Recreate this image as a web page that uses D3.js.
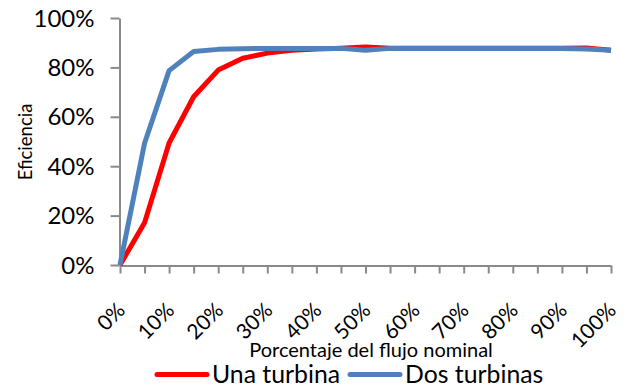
<!DOCTYPE html>
<html>
<head>
<meta charset="utf-8">
<script src="https://cdn.jsdelivr.net/npm/d3@7"></script>
<style>
  html, body { margin: 0; padding: 0; background: #fff; }
  svg text { font-family: Lato, "Open Sans", sans-serif; fill: #000; }
</style>
</head>
<body>
<svg id="chart" width="628" height="389"></svg>
<script>
// Flow as a share of nominal (category axis, every 5%)
const flowPct = [0, 5, 10, 15, 20, 25, 30, 35, 40, 45, 50, 55, 60, 65, 70, 75, 80, 85, 90, 95, 100];
// Efficiency with a single turbine
const unaTurbina = [0, 17.1, 49.4, 68.1, 78.9, 83.7, 85.8, 86.9, 87.4, 87.8, 88.3, 87.8, 87.8, 87.8, 87.8, 87.8, 87.8, 87.8, 87.8, 87.9, 86.9];
// Efficiency with two turbines
const dosTurbinas = [0, 49.3, 78.7, 86.4, 87.3, 87.6, 87.7, 87.7, 87.7, 87.7, 86.9, 87.7, 87.7, 87.7, 87.7, 87.7, 87.7, 87.7, 87.7, 87.4, 86.9];
const yTicks = [0, 20, 40, 60, 80, 100];
const xLabelEvery = 10;

const svg = d3.select("#chart");
const plot = { left: 120, right: 611, top: 18, bottom: 265 };

const x = d3.scalePoint().domain(flowPct).range([plot.left, plot.right]);
const y = d3.scaleLinear().domain([0, 100]).range([plot.bottom, plot.top]);
const axisColor = "#8a8a8a";

// Y axis
const yAxis = svg.append("g")
  .attr("transform", `translate(${plot.left - 0.5},0)`)
  .call(d3.axisLeft(y).tickValues(yTicks).tickSize(9).tickSizeOuter(0).tickFormat(d => d + "%"));
yAxis.select(".domain").attr("stroke", axisColor).attr("stroke-width", 2);
yAxis.selectAll(".tick line").attr("stroke", axisColor).attr("stroke-width", 2);
yAxis.selectAll(".tick text").attr("font-size", 24).attr("font-family", "Lato, sans-serif").attr("dy", "0.34em").attr("x", -25);

// X axis
const xAxis = svg.append("g")
  .attr("transform", `translate(0,${plot.bottom + 0.5})`)
  .call(d3.axisBottom(x).tickSize(8).tickSizeOuter(0).tickFormat(d => d % xLabelEvery === 0 ? d + "%" : ""));
xAxis.select(".domain").attr("stroke", axisColor).attr("stroke-width", 2);
xAxis.selectAll(".tick line").attr("stroke", axisColor).attr("stroke-width", 2);
xAxis.selectAll(".tick text")
  .attr("font-size", 21)
  .attr("font-family", "Lato, sans-serif")
  .attr("text-anchor", "end")
  .attr("dy", 0)
  .attr("y", 0)
  .attr("transform", "translate(6,46) rotate(-45)");

// Series lines
const line = d3.line().x((d, i) => x(flowPct[i])).y(d => y(d));
svg.append("path").datum(unaTurbina)
  .attr("d", line).attr("fill", "none").attr("stroke", "#FF0000")
  .attr("stroke-width", 5).attr("stroke-linejoin", "round");
svg.append("path").datum(dosTurbinas)
  .attr("d", line).attr("fill", "none").attr("stroke", "#4F81BD")
  .attr("stroke-width", 5).attr("stroke-linejoin", "round");

// Axis titles
svg.append("text")
  .attr("transform", "translate(32,142) rotate(-90)")
  .attr("text-anchor", "middle").attr("font-size", 18.5)
  .text("Eficiencia");
svg.append("text")
  .attr("x", 371).attr("y", 357)
  .attr("text-anchor", "middle").attr("font-size", 20)
  .text("Porcentaje del flujo nominal");

// Legend
const legend = [
  { name: "Una turbina", color: "#FF0000", x0: 157 },
  { name: "Dos turbinas", color: "#4F81BD", x0: 350 }
];
legend.forEach(l => {
  svg.append("line")
    .attr("x1", l.x0).attr("x2", l.x0 + 50).attr("y1", 374.5).attr("y2", 374.5)
    .attr("stroke", l.color).attr("stroke-width", 5).attr("stroke-linecap", "round");
  svg.append("text")
    .attr("x", l.x0 + 55).attr("y", 383).attr("font-size", 24.8)
    .text(l.name);
});
</script>
</body>
</html>
